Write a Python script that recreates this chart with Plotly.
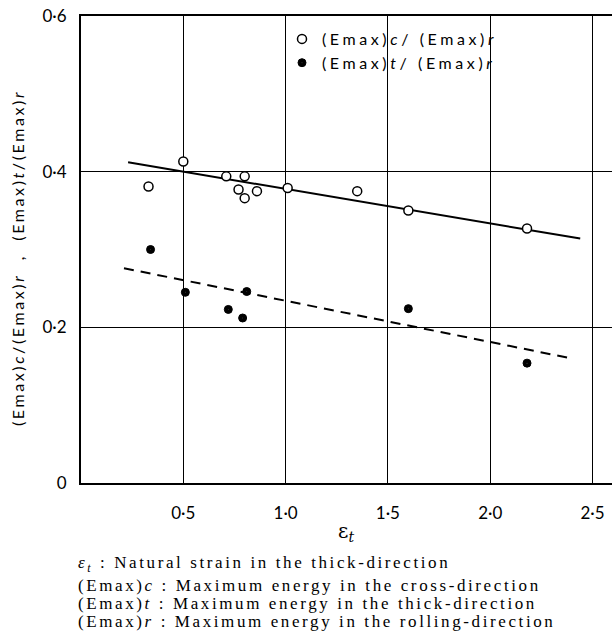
import plotly.graph_objects as go

# ---- data ----
c_x = [0.33, 0.50, 0.71, 0.80, 0.77, 0.80, 0.86, 1.01, 1.35, 1.60, 2.18]
c_y = [0.381, 0.413, 0.394, 0.394, 0.377, 0.366, 0.375, 0.379, 0.375, 0.350, 0.327]

t_x = [0.34, 0.51, 0.72, 0.79, 0.81, 1.60, 2.18]
t_y = [0.300, 0.245, 0.223, 0.212, 0.246, 0.224, 0.154]

fit_c_x = [0.23, 2.44]
fit_c_y = [0.412, 0.314]
fit_t_x = [0.21, 2.38]
fit_t_y = [0.276, 0.161]

x_tickvals = [0.5, 1.0, 1.5, 2.0, 2.5]
x_ticktext = ["0·5", "1·0", "1·5", "2·0", "2·5"]
y_tickvals = [0, 0.2, 0.4, 0.6]
y_ticktext = ["0", "0·2", "0·4", "0·6"]

caption_lines = [
    "<i>ε<sub>t</sub></i> : Natural strain in the thick-direction",
    "(Emax)<i>c</i> : Maximum energy in the cross-direction",
    "(Emax)<i>t</i> : Maximum energy in the thick-direction",
    "(Emax)<i>r</i> : Maximum energy in the rolling-direction",
]
caption_y = [564, 585, 603, 621]

W, H = 612, 642
L, R, T, B = 81, 0, 16, 159
PW, PH = W - L - R, H - T - B

def px_x(x):
    return (x - L) / PW

def px_y(y):
    return (H - B - y) / PH

def spaced(s, px):
    return '<span style="letter-spacing:%spx">%s</span>' % (px, s)

SANS = "Lato, DejaVu Sans, sans-serif"
AXFONT = dict(family=SANS, size=17, color="black")

fig = go.Figure()

fig.add_trace(go.Scatter(x=fit_c_x, y=fit_c_y, mode="lines",
                         line=dict(color="black", width=2), showlegend=False))
fig.add_trace(go.Scatter(x=fit_t_x, y=fit_t_y, mode="lines",
                         line=dict(color="black", width=2, dash="10px,7px"), showlegend=False))

fig.add_trace(go.Scatter(x=c_x, y=c_y, mode="markers",
                         name=spaced("(Emax)<i>c</i>/ (Emax)<i>r</i>", 3.6),
                         marker=dict(symbol="circle", size=9, color="white",
                                     line=dict(color="black", width=1.5))))
fig.add_trace(go.Scatter(x=t_x, y=t_y, mode="markers",
                         name=spaced("(Emax)<i>t</i>/ (Emax)<i>r</i>", 3.6),
                         marker=dict(symbol="circle-dot", size=8, color="black",
                                     line=dict(color="black", width=1))))

fig.update_layout(
    width=W, height=H,
    margin=dict(l=L, r=R, t=T, b=B),
    paper_bgcolor="white", plot_bgcolor="white",
    showlegend=True,
    legend=dict(x=px_x(282), y=px_y(22), xanchor="left", yanchor="top",
                bgcolor="rgba(0,0,0,0)", borderwidth=0,
                font=dict(family=SANS, size=16, color="black"),
                itemwidth=30, tracegroupgap=2),
)

fig.update_xaxes(range=[0, PW / 204.6], tickvals=x_tickvals, ticktext=x_ticktext,
                 showgrid=True, gridcolor="black", gridwidth=1,
                 showline=True, linecolor="black", linewidth=2, mirror=True,
                 ticks="", tickfont=AXFONT, ticklabelstandoff=14, zeroline=False)
fig.update_yaxes(range=[0, 0.6], tickvals=y_tickvals, ticktext=y_ticktext,
                 showgrid=True, gridcolor="black", gridwidth=1,
                 showline=True, linecolor="black", linewidth=2,
                 ticks="", tickfont=AXFONT, ticklabelstandoff=9, zeroline=False)

annotations = [
    dict(text=spaced("(Emax)<i>c</i>/(Emax)<i>r</i>  ,  (Emax)<i>t</i>/(Emax)<i>r</i>", 2.6),
         x=px_x(17), y=px_y(258), xref="paper", yref="paper", textangle=-90,
         showarrow=False, xanchor="center", yanchor="middle",
         font=dict(family=SANS, size=16, color="black")),
    dict(text="ε<sub><i>t</i></sub>", x=px_x(346), y=px_y(532), xref="paper", yref="paper",
         showarrow=False, xanchor="center", yanchor="middle",
         font=dict(family="DejaVu Serif, serif", size=20, color="black")),
]
for line, yy in zip(caption_lines, caption_y):
    annotations.append(dict(text=spaced(line, 2.6), x=px_x(76), y=px_y(yy),
                            xref="paper", yref="paper", showarrow=False,
                            xanchor="left", yanchor="middle",
                            font=dict(family="Liberation Serif, serif", size=17, color="black")))
fig.update_layout(annotations=annotations)

fig.write_html("out.html", config={"displayModeBar": False},
               post_script="document.body.style.margin='0';")
